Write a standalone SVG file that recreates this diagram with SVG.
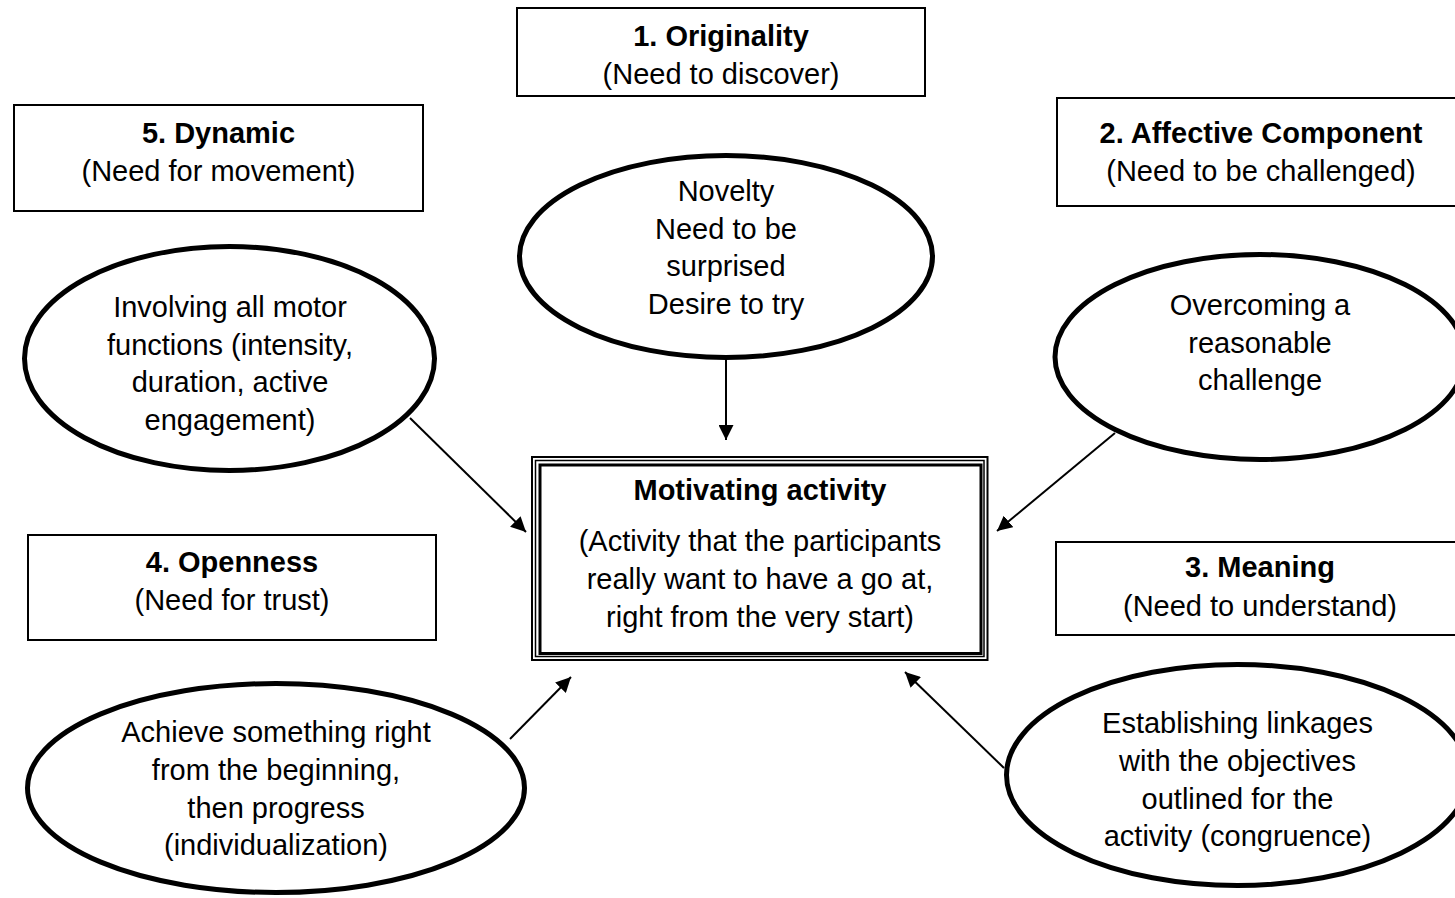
<svg xmlns="http://www.w3.org/2000/svg" width="1455" height="898" viewBox="0 0 1455 898">
<style>
text{font-family:"Liberation Sans",Arial,sans-serif;font-size:29px;fill:#000;text-anchor:middle}
.b{font-weight:bold}
.box{fill:#fff;stroke:#000;stroke-width:2}
.ell{fill:#fff;stroke:#000;stroke-width:5}
.arr{stroke:#000;stroke-width:2;fill:none;marker-end:url(#ah)}
</style>
<defs>
<marker id="ah" markerUnits="userSpaceOnUse" markerWidth="16" markerHeight="15" refX="15" refY="7.5" orient="auto">
<path d="M0,0 L15,7.5 L0,15 z" fill="#000"/>
</marker>
</defs>
<rect width="1455" height="898" fill="#fff"/>
<g id="connectors">
<line class="arr" x1="726" y1="360" x2="726" y2="440"/>
<line class="arr" x1="410" y1="418" x2="526" y2="532"/>
<line class="arr" x1="1115" y1="433" x2="997" y2="531"/>
<line class="arr" x1="510" y1="739" x2="571" y2="677"/>
<line class="arr" x1="1004" y1="768" x2="905" y2="672"/>
</g>
<g id="box1">
<rect class="box" x="517" y="8" width="408" height="88"/>
<text class="b" x="721" y="46">1. Originality</text>
<text x="721" y="84">(Need to discover)</text>
</g>
<g id="box5">
<rect class="box" x="14" y="105" width="409" height="106"/>
<text class="b" x="218.5" y="143">5. Dynamic</text>
<text x="218.5" y="181">(Need for movement)</text>
</g>
<g id="box2">
<rect class="box" x="1057" y="98" width="410" height="108"/>
<text class="b" x="1261" y="143">2. Affective Component</text>
<text x="1261" y="181">(Need to be challenged)</text>
</g>
<g id="box4">
<rect class="box" x="28" y="535" width="408" height="105"/>
<text class="b" x="232" y="572">4. Openness</text>
<text x="232" y="610">(Need for trust)</text>
</g>
<g id="box3">
<rect class="box" x="1056" y="542" width="410" height="93"/>
<text class="b" x="1260" y="577">3. Meaning</text>
<text x="1260" y="616">(Need to understand)</text>
</g>
<g id="ellipse1">
<ellipse class="ell" cx="726" cy="256.5" rx="206.5" ry="101"/>
<text x="726" y="201">Novelty</text>
<text x="726" y="239">Need to be</text>
<text x="726" y="276">surprised</text>
<text x="726" y="314">Desire to try</text>
</g>
<g id="ellipse5">
<ellipse class="ell" cx="229.5" cy="358.5" rx="205" ry="112"/>
<text x="230" y="317">Involving all motor</text>
<text x="230" y="355">functions (intensity,</text>
<text x="230" y="392">duration, active</text>
<text x="230" y="430">engagement)</text>
</g>
<g id="ellipse2">
<ellipse class="ell" cx="1260" cy="357" rx="205" ry="102.5"/>
<text x="1260" y="315">Overcoming a</text>
<text x="1260" y="353">reasonable</text>
<text x="1260" y="390">challenge</text>
</g>
<g id="ellipse4">
<ellipse class="ell" cx="276" cy="788" rx="248.5" ry="104.5"/>
<text x="276" y="742">Achieve something right</text>
<text x="276" y="780">from the beginning,</text>
<text x="276" y="818">then progress</text>
<text x="276" y="855">(individualization)</text>
</g>
<g id="ellipse3">
<ellipse class="ell" cx="1237.5" cy="775" rx="231" ry="110.5"/>
<text x="1237.5" y="733">Establishing linkages</text>
<text x="1237.5" y="771">with the objectives</text>
<text x="1237.5" y="809">outlined for the</text>
<text x="1237.5" y="846">activity (congruence)</text>
</g>
<g id="center">
<rect x="532" y="457" width="455.5" height="203" fill="#fff" stroke="#000" stroke-width="2"/>
<rect x="535.5" y="460.5" width="448.5" height="196" fill="none" stroke="#000" stroke-width="1.5"/>
<rect x="540" y="465" width="441" height="188.5" fill="none" stroke="#000" stroke-width="3"/>
<text class="b" x="760" y="500">Motivating activity</text>
<text x="760" y="551">(Activity that the participants</text>
<text x="760" y="589">really want to have a go at,</text>
<text x="760" y="627">right from the very start)</text>
</g>
</svg>
